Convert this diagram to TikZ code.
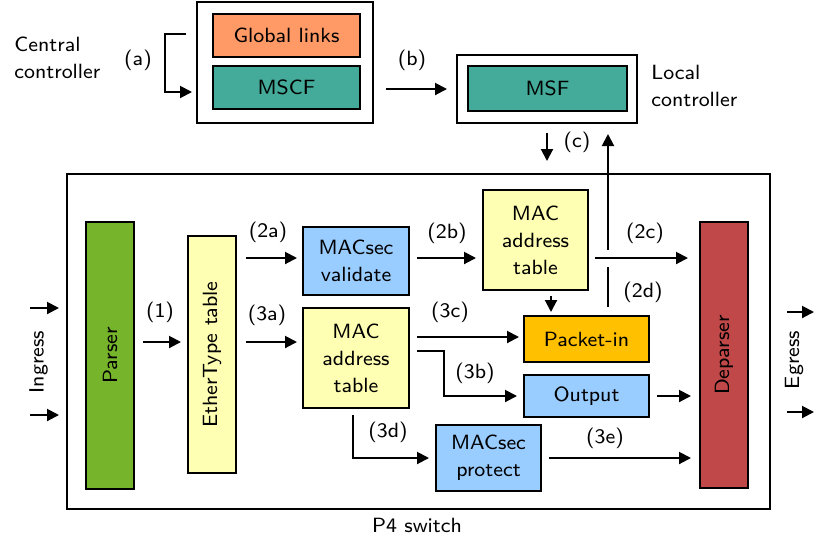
\documentclass[tikz,border=0pt]{standalone}
\usepackage{fontspec}
\newfontfamily\lmsviii{lmsans8-regular.otf}
\usetikzlibrary{arrows.meta}
\definecolor{cOrange}{HTML}{FF9966}
\definecolor{cTeal}{HTML}{44AA99}
\definecolor{cGreen}{HTML}{76B42B}
\definecolor{cYellow}{HTML}{FFFFB3}
\definecolor{cBlue}{HTML}{99CCFF}
\definecolor{cGold}{HTML}{FFC000}
\definecolor{cRed}{HTML}{C04848}
\begin{document}
\begin{tikzpicture}[x=0.5pt,y=-0.5pt,
  font=\lmsviii\fontsize{10.3}{13.5}\selectfont,
  blk/.style={draw, line width=1pt, inner sep=0pt, align=center},
  sz/.style n args={2}{minimum width=#1*0.5pt, minimum height=#2*0.5pt},
  arr/.style={line width=1pt, -{Triangle[length=6pt,width=6pt]}, shorten <=3.5pt, shorten >=3pt},
  ln/.style={line width=1pt},
  lbl/.style={inner sep=0pt, align=left}]
\useasboundingbox (0,0) rectangle (830,553);

% top controllers
\node[blk, sz={176}{121}] (outerC) at (285,62.5) {};
\node[blk, sz={147}{43}, fill=cOrange] (glob) at (286.5,35.5) {Global links};
\node[blk, sz={147}{43}, fill=cTeal] (mscf) at (286.5,87.5) {MSCF};
\node[blk, sz={180}{68}] (outerL) at (547,89) {};
\node[blk, sz={159}{45}, fill=cTeal] (msf) at (547.5,88.5) {MSF};

\node[lbl, anchor=west] (cc) at (14,58) {Central\\controller};
\node[lbl, anchor=west] (lc) at (651,86) {Local\\controller};

% P4 switch
\node[blk, sz={703}{335}] (p4) at (418.5,341.5) {};
\node[lbl] (p4l) at (417,525) {P4 switch};

\node[blk, sz={48}{267}, fill=cGreen] (parser) at (110,355.5) {\rotatebox{90}{Parser}};
\node[blk, sz={48}{237}, fill=cYellow] (ether) at (212,354.5) {\rotatebox{90}{EtherType table}};
\node[blk, sz={106}{68}, fill=cBlue] (mval) at (356,261) {MACsec\\validate};
\node[blk, sz={106}{100}, fill=cYellow] (mtab2) at (356,358) {MAC\\address\\table};
\node[blk, sz={105}{100}, fill=cYellow] (mtab1) at (535.5,240) {MAC\\address\\table};
\node[blk, sz={125}{46}, fill=cGold] (pin) at (586.5,339) {Packet-in};
\node[blk, sz={125}{42}, fill=cBlue] (out) at (586.5,396) {Output};
\node[blk, sz={105}{66}, fill=cBlue] (mprot) at (488.5,458) {MACsec\\protect};
\node[blk, sz={48}{266}, fill=cRed] (dep) at (724,355) {\rotatebox{90}{Deparser}};

% labels
\node[lbl] (la) at (138,60) {(a)};
\node[lbl] (lb) at (412,60) {(b)};
\node[lbl] (lcc) at (577,142) {(c)};
\node[lbl] (l1) at (160,312) {(1)};
\node[lbl] (l2a) at (268,232) {(2a)};
\node[lbl] (l2b) at (447,233) {(2b)};
\node[lbl] (l2c) at (645,233) {(2c)};
\node[lbl] (l2d) at (643,292) {(2d)};
\node[lbl] (l3a) at (267,315) {(3a)};
\node[lbl] (l3b) at (475,373) {(3b)};
\node[lbl] (l3c) at (450,312) {(3c)};
\node[lbl] (l3d) at (388,432) {(3d)};
\node[lbl] (l3e) at (605,438) {(3e)};
\node[lbl] (ing) at (38.5,362) {\rotatebox{90}{Ingress}};
\node[lbl] (egr) at (794,360) {\rotatebox{90}{Egress}};

% controller arrows
\coordinate (astart) at (186,34);
\draw[arr, shorten <=0pt, shorten >=2pt] (astart) -- (165,34) |- (outerC.west |- 0,92);
\draw[arr, shorten <=6pt, shorten >=4.5pt] (outerC.east |- outerL.west) -- (outerL.west);
\draw[arr, shorten <=4.5pt, shorten >=6pt] (outerL.south) -- (outerL.south |- p4.north);
\coordinate (j1) at (608,267);
\coordinate (j2) at (608,250);
\draw[ln, shorten <=4pt] (pin.north -| j1) -- (j1);
\draw[arr, shorten <=0pt, shorten >=5pt] (j2) -- (outerL.south -| j2);

% ingress / egress
\coordinate (in1) at (30,308);
\coordinate (in2) at (30,415);
\draw[arr, shorten <=0pt, shorten >=3.5pt] (in1) -- (p4.west |- in1);
\draw[arr, shorten <=0pt, shorten >=3.5pt] (in2) -- (p4.west |- in2);
\coordinate (eg1) at (814,312);
\coordinate (eg2) at (814,412);
\draw[arr, shorten <=8pt, shorten >=0pt] (p4.east |- eg1) -- (eg1);
\draw[arr, shorten <=8pt, shorten >=0pt] (p4.east |- eg2) -- (eg2);

% pipeline arrows
\draw[arr, shorten <=4pt] (parser.east |- 0,342) -- (ether.west |- 0,342);
\draw[arr, shorten <=4.5pt, shorten >=2.5pt] (ether.east |- 0,258) -- (mval.west |- 0,258);
\draw[arr, shorten <=4.5pt, shorten >=2.5pt] (ether.east |- 0,342) -- (mtab2.west |- 0,342);
\draw[arr] (mval.east |- 0,258) -- (mtab1.west |- 0,258);
\draw[arr, shorten <=3pt, shorten >=5.5pt] (mtab1.east |- 0,258) -- (dep.west |- 0,258);
\draw[arr, shorten <=2.5pt, shorten >=1.5pt] (mtab1.south -| 551,0) -- (pin.north -| 551,0);
\draw[arr, shorten >=2pt] (mtab2.east |- 0,337) -- (pin.west |- 0,337);
\draw[arr] (mtab2.east |- 0,351) -- (444,351) -- (444,396) -- (out.west);
\draw[arr, shorten <=3pt] ([xshift=-1.5pt]mtab2.south) |- (mprot.west);
\draw[arr, shorten >=4pt] (out.east) -- (dep.west |- out.east);
\draw[arr, shorten >=4pt] (mprot.east) -- (dep.west |- mprot.east);
\end{tikzpicture}
\end{document}
